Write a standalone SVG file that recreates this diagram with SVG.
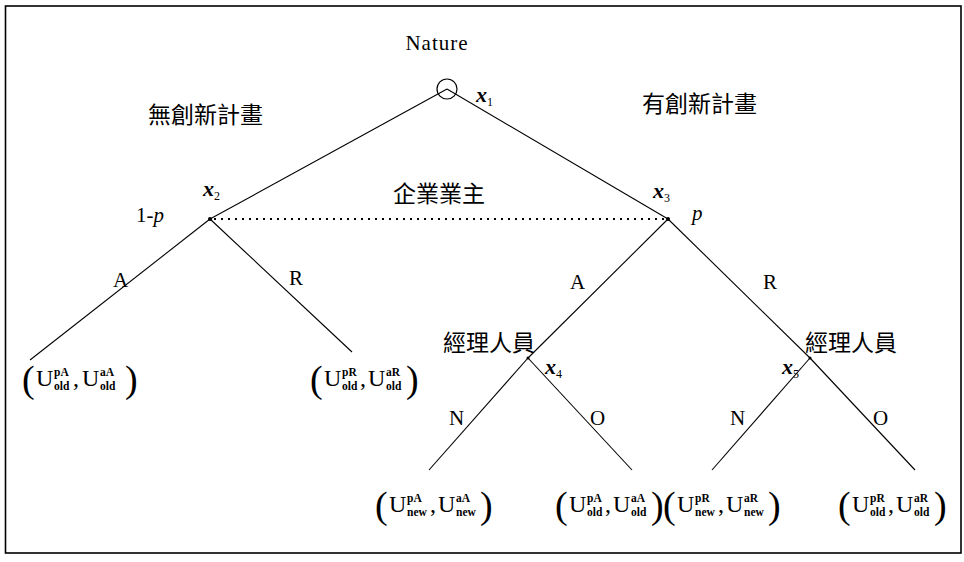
<svg xmlns="http://www.w3.org/2000/svg" width="964" height="562" viewBox="0 0 964 562">
<style>
.ln{stroke:#000;stroke-width:1.1;fill:none}
.dot{stroke:#000;stroke-width:2;stroke-dasharray:2 5;fill:none}
.s{font-family:"Liberation Serif",serif;fill:#000}
.lab{font-family:"Liberation Serif",serif;font-size:21px;fill:#000}
.it{font-family:"Liberation Serif",serif;font-style:italic;font-weight:bold;font-size:22px;fill:#000}
.sb{font-family:"Liberation Serif",serif;font-size:12px;font-weight:normal;fill:#000}
.cjk{font-family:"Noto Sans CJK TC","Noto Sans CJK SC",sans-serif;font-size:23px;fill:#000}
.par{font-family:"Liberation Serif",serif;font-size:38px;fill:#000}
.U{font-family:"Liberation Serif",serif;font-size:24px;fill:#000}
.sm{font-family:"Liberation Serif",serif;font-size:11.5px;font-weight:bold;fill:#000}
</style>
<rect x="0" y="0" width="964" height="562" fill="#fff"/>
<rect x="5.5" y="6" width="955.5" height="547" fill="none" stroke="#000" stroke-width="1.6"/>
<g id="connectors">
<line class="ln" x1="447" y1="89" x2="210" y2="219"/>
<line class="ln" x1="447" y1="89" x2="668" y2="219"/>
<line class="dot" x1="214" y1="219" x2="666" y2="219"/>
<line class="ln" x1="210" y1="219" x2="30" y2="360"/>
<line class="ln" x1="210" y1="219" x2="352" y2="352"/>
<line class="ln" x1="668" y1="219" x2="528" y2="358"/>
<line class="ln" x1="668" y1="219" x2="810" y2="358"/>
<line class="ln" x1="528" y1="358" x2="429" y2="470"/>
<line class="ln" x1="528" y1="358" x2="632" y2="470"/>
<line class="ln" x1="810" y1="358" x2="712" y2="470"/>
<line class="ln" x1="810" y1="358" x2="915" y2="470"/>
</g>
<g id="x1">
<circle cx="447" cy="89" r="10" fill="none" stroke="#000" stroke-width="1.2"/>
<text class="s" x="437" y="50" font-size="21" letter-spacing="1" text-anchor="middle">Nature</text>
<text class="it" x="476" y="102">x<tspan class="sb" font-style="normal" dy="4">1</tspan></text>
</g>
<g id="x2">
<circle cx="210" cy="219" r="2" fill="#000"/>
<text class="it" x="203" y="196">x<tspan class="sb" font-style="normal" dy="4">2</tspan></text>
<text class="lab" x="136" y="222">1-<tspan font-style="italic">p</tspan></text>
</g>
<g id="x3">
<circle cx="668" cy="219" r="2" fill="#000"/>
<text class="it" x="653" y="198">x<tspan class="sb" font-style="normal" dy="4">3</tspan></text>
<text class="lab" font-style="italic" x="692" y="220">p</text>
</g>
<g id="x4">
<circle cx="528" cy="358" r="1.5" fill="#000"/>
<text class="it" x="545" y="374">x<tspan class="sb" font-style="normal" dy="4">4</tspan></text>
<text class="cjk" x="443" y="351">經理人員</text>
</g>
<g id="x5">
<circle cx="810" cy="358" r="1.5" fill="#000"/>
<text class="it" x="782" y="374">x<tspan class="sb" font-style="normal" dy="4">5</tspan></text>
<text class="cjk" x="805" y="351">經理人員</text>
</g>
<g id="labels">
<text class="cjk" x="148" y="123">無創新計畫</text>
<text class="cjk" x="642" y="112">有創新計畫</text>
<text class="cjk" x="393" y="202">企業業主</text>
<text class="lab" x="113" y="287">A</text>
<text class="lab" x="289" y="285">R</text>
<text class="lab" x="570" y="289">A</text>
<text class="lab" x="763" y="289">R</text>
<text class="lab" x="449" y="425">N</text>
<text class="lab" x="590" y="425">O</text>
<text class="lab" x="730" y="425">N</text>
<text class="lab" x="873" y="425">O</text>
</g>
<g id="leaf1" transform="translate(22,386)">
<text class="par" x="0" y="6">(</text><text class="U" x="14" y="0">U</text>
<text class="sm" x="32" y="-10">pA</text><text class="sm" x="32" y="4">old</text>
<text class="U" x="51" y="0">,</text><text class="U" x="60" y="0">U</text>
<text class="sm" x="78" y="-10">aA</text><text class="sm" x="78" y="4">old</text>
<text class="par" x="103" y="6">)</text>
</g>
<g id="leaf2" transform="translate(310,386)">
<text class="par" x="0" y="6">(</text><text class="U" x="14" y="0">U</text>
<text class="sm" x="32" y="-10">pR</text><text class="sm" x="32" y="4">old</text>
<text class="U" x="50" y="0">,</text><text class="U" x="58" y="0">U</text>
<text class="sm" x="76" y="-10">aR</text><text class="sm" x="76" y="4">old</text>
<text class="par" x="96" y="6">)</text>
</g>
<g id="leaf3" transform="translate(375,512)">
<text class="par" x="0" y="6">(</text><text class="U" x="14" y="0">U</text>
<text class="sm" x="32" y="-10">pA</text><text class="sm" x="32" y="4">new</text>
<text class="U" x="55" y="0">,</text><text class="U" x="63" y="0">U</text>
<text class="sm" x="81" y="-10">aA</text><text class="sm" x="81" y="4">new</text>
<text class="par" x="105" y="6">)</text>
</g>
<g id="leaf4" transform="translate(555,512)">
<text class="par" x="0" y="6">(</text><text class="U" x="14" y="0">U</text>
<text class="sm" x="32" y="-10">pA</text><text class="sm" x="32" y="4">old</text>
<text class="U" x="50" y="0">,</text><text class="U" x="58" y="0">U</text>
<text class="sm" x="76" y="-10">aA</text><text class="sm" x="76" y="4">old</text>
<text class="par" x="96" y="6">)</text>
</g>
<g id="leaf5" transform="translate(663,512)">
<text class="par" x="0" y="6">(</text><text class="U" x="14" y="0">U</text>
<text class="sm" x="32" y="-10">pR</text><text class="sm" x="32" y="4">new</text>
<text class="U" x="55" y="0">,</text><text class="U" x="63" y="0">U</text>
<text class="sm" x="81" y="-10">aR</text><text class="sm" x="81" y="4">new</text>
<text class="par" x="105" y="6">)</text>
</g>
<g id="leaf6" transform="translate(838,512)">
<text class="par" x="0" y="6">(</text><text class="U" x="14" y="0">U</text>
<text class="sm" x="32" y="-10">pR</text><text class="sm" x="32" y="4">old</text>
<text class="U" x="50" y="0">,</text><text class="U" x="58" y="0">U</text>
<text class="sm" x="76" y="-10">aR</text><text class="sm" x="76" y="4">old</text>
<text class="par" x="96" y="6">)</text>
</g>
</svg>
